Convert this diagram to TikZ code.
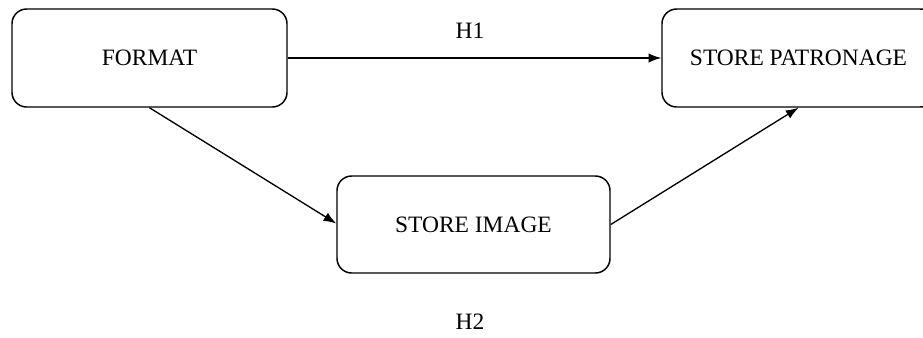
\documentclass[tikz,border=0pt]{standalone}
\usepackage{fontspec}
\setmainfont{Liberation Serif}
\usetikzlibrary{arrows.meta}
\tikzset{
  px/.style={x=0.75pt,y=-0.75pt},
  box/.style={draw, line width=1.1pt, rounded corners=11pt, inner sep=0pt,
    minimum height=73.5pt, font=\fontsize{17.6}{19}\selectfont},
  link/.style={line width=1.0pt, -{Latex[length=9.5pt,width=7pt]}},
  lbl/.style={font=\fontsize{17.6}{19}\selectfont}
}
\begin{document}
\begin{tikzpicture}[px]
  \useasboundingbox (0,0) rectangle (923,337);
  \clip (0,0) rectangle (923,337);
  % boxes (the right one runs past the frame edge)
  \node[box, minimum width=206.25pt] (format) at (149.5,58) {FORMAT};
  \node[box, minimum width=204.75pt] (patron) at (798.5,58) {STORE PATRONAGE};
  \node[box, minimum width=204.75pt, minimum height=72.75pt] (image) at (473.5,224.5) {STORE IMAGE};
  % connectors
  \draw[link] (format.east) -- (patron.west);
  \draw[link] (format.south) -- ([yshift=0.75pt]image.west);
  \draw[link] (image.east) -- (patron.south);
  % hypothesis labels
  \node[lbl] (h1) at (470,31) {H1};
  \node[lbl] (h2) at (470,322) {H2};
\end{tikzpicture}
\end{document}
